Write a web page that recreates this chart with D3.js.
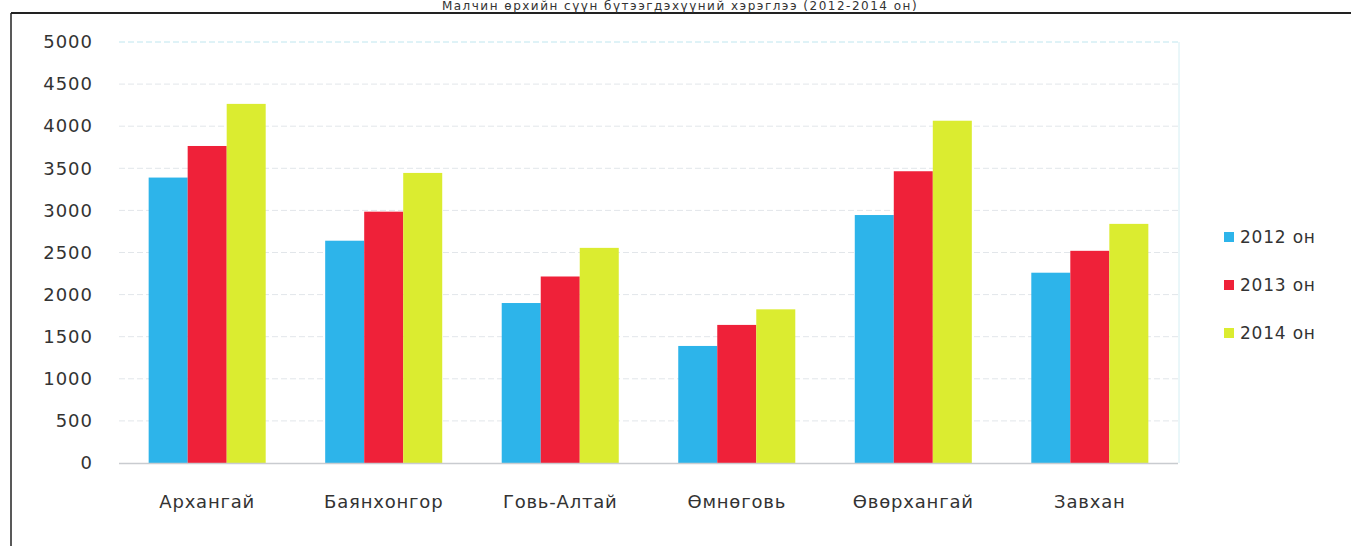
<!DOCTYPE html>
<html>
<head>
<meta charset="utf-8" />
<title>Сүүний хэрэглээ</title>
<script src="https://d3js.org/d3.v7.min.js"></script>
<style>
  body { margin: 0; background: #fff; }
  text { font-family: "DejaVu Sans", sans-serif; fill: #333; }
</style>
</head>
<body>
<script>
// data
var categories = ["Архангай", "Баянхонгор", "Говь-Алтай", "Өмнөговь", "Өвөрхангай", "Завхан"];
var seriesNames = ["2012 он", "2013 он", "2014 он"];
var v2012 = [3390, 2640, 1900, 1390, 2945, 2260];
var v2013 = [3765, 2985, 2215, 1640, 3465, 2520];
var v2014 = [4265, 3445, 2555, 1825, 4065, 2840];
var yTicks = [0, 500, 1000, 1500, 2000, 2500, 3000, 3500, 4000, 4500, 5000];
var colors = ["#2db4ea", "#ef2139", "#dbec30"];
var title = "Малчин өрхийн сүүн бүтээгдэхүүний хэрэглээ (2012-2014 он)";

var W = 1351, H = 546;
var svg = d3.select("body").append("svg")
    .attr("width", W)
    .attr("height", H);

// frame lines of the scanned chart
svg.append("line").attr("x1", 11).attr("x2", W).attr("y1", 13).attr("y2", 13)
    .attr("stroke", "#222").attr("stroke-width", 2);
svg.append("line").attr("x1", 11).attr("x2", 11).attr("y1", 13).attr("y2", H)
    .attr("stroke", "#222").attr("stroke-width", 1.5);

// title, squeezed into the strip above the frame
svg.append("text")
    .attr("x", 680).attr("y", 10)
    .attr("text-anchor", "middle")
    .style("font-size", "12px")
    .style("letter-spacing", "1.5px")
    .text(title);

var x = d3.scaleBand().domain(categories).range([119, 1178]).paddingInner(0.337).paddingOuter(0.168);
var xs = d3.scaleBand().domain(seriesNames).range([0, x.bandwidth()]);
var y = d3.scaleLinear().domain([0, 5000]).range([463, 42]);

// grid
svg.append("g").selectAll("line")
    .data(yTicks.slice(1))
    .enter().append("line")
    .attr("x1", 119).attr("x2", 1178)
    .attr("y1", function(d){ return y(d); })
    .attr("y2", function(d){ return y(d); })
    .attr("stroke", function(d){ return d == 5000 ? "#bfe6ef" : "#e2e6ea"; })
    .attr("stroke-width", 1)
    .attr("stroke-dasharray", "6,3");

svg.append("line").attr("x1", 1179).attr("x2", 1179).attr("y1", 42).attr("y2", 463)
    .attr("stroke", "#d4eef3");

// y axis labels
var yAxis = svg.append("g")
    .attr("transform", "translate(119,0)")
    .call(d3.axisLeft(y).tickValues(yTicks).tickSize(0).tickPadding(26).tickFormat(d3.format("d")));
yAxis.select(".domain").remove();
yAxis.selectAll("text")
    .style("font-family", "DejaVu Sans")
    .style("font-size", "18px")
    .style("letter-spacing", "1px")
    .attr("fill", "#333");

// bars
var rows = categories.map(function(c, i){
    return { cat: c, vals: [v2012[i], v2013[i], v2014[i]] };
});
var group = svg.append("g").selectAll("g")
    .data(rows)
    .enter().append("g")
    .attr("transform", function(d){ return "translate(" + x(d.cat) + ",0)"; });

group.selectAll("rect")
    .data(function(d){ return d.vals.map(function(v, j){ return { s: seriesNames[j], v: v, j: j }; }); })
    .enter().append("rect")
    .attr("x", function(d){ return xs(d.s); })
    .attr("width", xs.bandwidth())
    .attr("y", function(d){ return y(d.v); })
    .attr("height", function(d){ return y(0) - y(d.v); })
    .attr("fill", function(d){ return colors[d.j]; });

// baseline
svg.append("line").attr("x1", 119).attr("x2", 1178).attr("y1", 463.5).attr("y2", 463.5)
    .attr("stroke", "#c9ccd0").attr("stroke-width", 1.5);

// x axis labels
var xAxis = svg.append("g")
    .attr("transform", "translate(0,463)")
    .call(d3.axisBottom(x).tickSize(0).tickPadding(32));
xAxis.select(".domain").remove();
xAxis.selectAll("text")
    .style("font-family", "DejaVu Sans")
    .style("font-size", "18px")
    .style("letter-spacing", "0.8px")
    .attr("fill", "#222");

// legend
var legend = svg.append("g").selectAll("g")
    .data(seriesNames)
    .enter().append("g")
    .attr("transform", function(d, i){ return "translate(1224," + (237 + i * 48) + ")"; });
legend.append("rect")
    .attr("x", 0).attr("y", -5).attr("width", 10).attr("height", 10)
    .attr("fill", function(d, i){ return colors[i]; });
legend.append("text")
    .attr("x", 16).attr("y", 0).attr("dy", "0.36em")
    .style("font-size", "17px")
    .style("letter-spacing", "0.8px")
    .text(function(d){ return d; });
</script>
</body>
</html>
